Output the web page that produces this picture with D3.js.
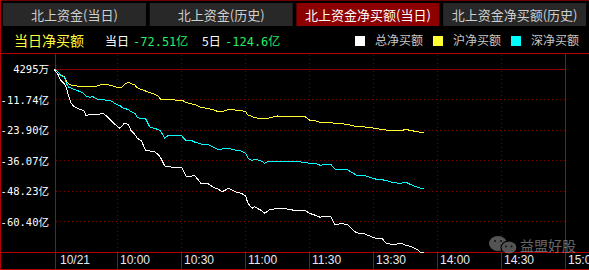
<!DOCTYPE html>
<html>
<head>
<meta charset="utf-8">
<script src="https://cdn.jsdelivr.net/npm/d3@7/dist/d3.min.js"></script>
<style>
  html, body { margin: 0; padding: 0; background: #000; overflow: hidden; }
  svg { display: block; }
</style>
</head>
<body>
<svg id="chart" width="589" height="270"></svg>
<script>
// tabs across the top, the third one is selected
const tabNames = ["北上资金(当日)", "北上资金(历史)", "北上资金净买额(当日)", "北上资金净买额(历史)"];
const activeTab = 2;

const todayLabel = "当日净买额";
const todayValue = "-72.51亿";
const fiveDayValue = "-124.6亿";

const legendNames = ["总净买额", "沪净买额", "深净买额"];
const legendColors = ["#ffffff", "#ffff33", "#00ffff"];

// trading minutes since 9:30 (lunch break removed)
const minutes = [0, 2, 3, 5, 6, 7, 8, 9, 11, 14, 15, 17, 18, 20, 23, 25, 27, 29, 31, 32,
  33, 35, 36, 38, 39, 41, 43, 45, 47, 49, 50, 52, 54, 57, 60, 62, 64, 66, 69, 72,
  75, 77, 79, 82, 85, 88, 90, 91, 93, 94, 97, 99, 101, 105, 108, 112, 116, 118, 120, 123,
  125, 127, 130, 132, 135, 138, 140, 142, 146, 148, 151, 154, 156, 159, 161, 163, 165, 168, 171, 172, 174];

// net buying, 亿元
const totalNet = [0.43, -1.96, -3.95, -5.55, -7.54, -10.73, -13.12, -14.20, -15.31, -16.11,
  -18.10, -17.71, -17.51, -17.79, -17.23, -18.58, -20.30, -21.89, -23.21, -22.17,
  -21.21, -21.69, -23.88, -25.68, -27.07, -28.15, -31.86, -32.26, -32.45, -33.65,
  -34.85, -38.23, -38.51, -38.91, -38.75, -42.22, -42.50, -41.94, -45.13, -45.13,
  -46.80, -47.40, -48.48, -47.12, -48.48, -49.12, -50.19, -52.98, -55.10, -54.46,
  -55.77, -57.09, -55.77, -55.10, -55.10, -55.77, -55.77, -55.97, -57.09, -57.96,
  -58.68, -58.16, -58.44, -61.75, -61.07, -61.75, -63.47, -64.82, -65.34, -66.02,
  -67.05, -67.05, -69.04, -69.52, -69.32, -69.04, -69.72, -70.40, -71.72, -72.51, -72.51];

const shNet = [0.43, -0.77, -1.96, -2.76, -4.75, -5.55, -5.95, -6.23, -6.35, -6.47,
  -6.47, -6.47, -6.35, -6.35, -5.67, -5.87, -6.07, -6.74, -7.02, -6.74,
  -5.75, -4.87, -5.35, -5.95, -7.02, -7.74, -8.34, -8.94, -9.54, -10.33,
  -11.53, -11.73, -11.81, -11.93, -11.93, -12.92, -13.32, -13.72, -14.84, -15.24,
  -15.91, -16.51, -16.59, -15.63, -15.91, -16.19, -16.51, -17.91, -18.50, -18.90,
  -19.30, -19.50, -19.10, -18.30, -18.42, -18.50, -18.58, -18.58, -19.90, -20.30,
  -20.82, -20.70, -20.90, -21.21, -21.41, -21.61, -22.09, -22.49, -22.69, -22.89,
  -23.21, -23.69, -23.88, -24.28, -24.28, -24.28, -23.61, -24.16, -24.60, -24.80, -24.88];

const szNet = [0.43, -0.77, -1.96, -2.96, -5.55, -6.86, -7.14, -7.54, -8.14, -9.34,
  -10.33, -10.93, -10.45, -11.53, -11.81, -12.05, -12.33, -13.52, -14.20, -14.92,
  -15.31, -15.71, -16.51, -17.23, -18.70, -19.50, -19.30, -22.69, -23.21, -23.69,
  -24.28, -27.07, -25.88, -26.08, -26.28, -28.07, -27.87, -28.67, -29.47, -29.47,
  -30.86, -31.58, -31.46, -31.18, -31.86, -32.26, -33.17, -35.05, -36.12, -35.56,
  -36.04, -37.16, -36.24, -36.44, -36.52, -36.52, -36.64, -36.76, -37.16, -37.24,
  -37.96, -37.64, -37.56, -39.55, -39.75, -39.83, -40.83, -41.82, -42.02, -42.62,
  -43.42, -43.70, -44.01, -44.81, -45.01, -45.13, -44.61, -45.81, -46.80, -47.00, -47.12];

const yDomain = [-72.51, 0.4295];
const yTicks = [0.4295, -11.74, -23.90, -36.07, -48.23, -60.40];
const yTickLabels = ["4295万", "-11.74亿", "-23.90亿", "-36.07亿", "-48.23亿", "-60.40亿"];

const timeTicks = [0, 30, 60, 90, 120, 150, 180, 210, 240];
const timeLabels = ["10/21", "10:00", "10:30", "11:00", "11:30", "13:30", "14:00", "14:30", "15:00"];

const W = 589, H = 270;
const RED = "#b40000";
const GRID = "#7a0000";
const plot = { left: 55, right: 565, top: 53, bottom: 252 };

const svg = d3.select("#chart");
const px = v => Math.floor(v) + 0.5;

svg.append("rect").attr("width", W).attr("height", H).attr("fill", "#000");

// tabs
const tabW = 143, tabStep = 146.7;
const tabG = svg.append("g");
tabG.selectAll("rect")
  .data(tabNames)
  .join("rect")
  .attr("x", (_, i) => 3 + i * tabStep)
  .attr("y", 3)
  .attr("width", tabW)
  .attr("height", 23)
  .attr("fill", (_, i) => (i === activeTab ? "#8c0000" : "#282828"));
tabG.selectAll("text")
  .data(tabNames)
  .join("text")
  .attr("x", (_, i) => 3 + i * tabStep + tabW / 2)
  .attr("y", 20)
  .attr("text-anchor", "middle")
  .attr("font-family", "'Noto Sans CJK SC', sans-serif")
  .attr("font-size", 13)
  .attr("fill", (_, i) => (i === activeTab ? "#ffffff" : "#cfcfcf"))
  .text(d => d);

// frame lines
const frame = svg.append("g").attr("stroke", RED).attr("stroke-width", 1).attr("shape-rendering", "crispEdges");
frame.append("line").attr("x1", 0).attr("x2", W).attr("y1", 0.5).attr("y2", 0.5).attr("stroke", "#6e0000");
frame.append("line").attr("x1", 0.5).attr("x2", 0.5).attr("y1", 0).attr("y2", H);
frame.append("line").attr("x1", 0).attr("x2", W).attr("y1", px(plot.top)).attr("y2", px(plot.top));
frame.append("line").attr("x1", 0).attr("x2", W).attr("y1", px(plot.bottom)).attr("y2", px(plot.bottom));
frame.append("line").attr("x1", 0).attr("x2", W).attr("y1", 269.5).attr("y2", 269.5);
frame.append("line").attr("x1", px(plot.left)).attr("x2", px(plot.left)).attr("y1", plot.top).attr("y2", H);
frame.append("line").attr("x1", px(plot.right)).attr("x2", px(plot.right)).attr("y1", plot.top).attr("y2", H);

// info row
const info = svg.append("g").attr("font-family", "'DejaVu Sans Mono', 'Noto Sans CJK SC', monospace");
info.append("text").attr("x", 14).attr("y", 46)
  .attr("font-family", "'Noto Sans CJK SC', sans-serif").attr("font-size", 14)
  .attr("fill", "#ffff33").text(todayLabel);
info.append("text").attr("x", 105).attr("y", 45.5)
  .attr("font-family", "'Noto Sans CJK SC', sans-serif").attr("font-size", 12)
  .attr("fill", "#ffffff").text("当日");
info.append("text").attr("x", 133).attr("y", 45.5).attr("font-size", 12)
  .attr("fill", "#22ee66").text(todayValue);
info.append("text").attr("x", 202).attr("y", 45.5)
  .attr("font-family", "'Noto Sans CJK SC', sans-serif").attr("font-size", 12)
  .attr("fill", "#ffffff").text("5日");
info.append("text").attr("x", 225).attr("y", 45.5).attr("font-size", 12)
  .attr("fill", "#22ee66").text(fiveDayValue);

// legend
const legendX = [355, 433, 511];
const legend = svg.append("g");
legend.selectAll("rect")
  .data(legendNames)
  .join("rect")
  .attr("x", (_, i) => legendX[i])
  .attr("y", 36)
  .attr("width", 10)
  .attr("height", 10)
  .attr("fill", (_, i) => legendColors[i]);
legend.selectAll("text")
  .data(legendNames)
  .join("text")
  .attr("x", (_, i) => legendX[i] + 20)
  .attr("y", 45)
  .attr("font-family", "'Noto Sans CJK SC', sans-serif")
  .attr("font-size", 12)
  .attr("fill", "#c8c8c8")
  .text(d => d);

// scales
const x = d3.scaleLinear().domain([0, 240]).range([54, 565]);
const y = d3.scaleLinear().domain(yDomain).range([plot.bottom, 69]);

// horizontal grid
svg.append("g")
  .selectAll("line")
  .data(yTicks)
  .join("line")
  .attr("x1", plot.left + 1)
  .attr("x2", plot.right)
  .attr("y1", d => px(y(d)))
  .attr("y2", d => px(y(d)))
  .attr("stroke", (_, i) => (i === 0 ? "#8a0000" : GRID))
  .attr("stroke-dasharray", (_, i) => (i === 0 ? null : "1,3"))
  .attr("shape-rendering", "crispEdges");

// vertical grid inside the plot
const innerTicks = timeTicks.slice(1, -1);
svg.append("g")
  .selectAll("line")
  .data(innerTicks)
  .join("line")
  .attr("x1", d => px(x(d)))
  .attr("x2", d => px(x(d)))
  .attr("y1", plot.top + 2)
  .attr("y2", plot.bottom)
  .attr("stroke", GRID)
  .attr("stroke-dasharray", "1,3")
  .attr("shape-rendering", "crispEdges");

// separators in the time-label row
svg.append("g")
  .selectAll("line")
  .data(innerTicks)
  .join("line")
  .attr("x1", d => px(x(d)))
  .attr("x2", d => px(x(d)))
  .attr("y1", plot.bottom)
  .attr("y2", H)
  .attr("stroke", RED)
  .attr("shape-rendering", "crispEdges");

// y labels
svg.append("g")
  .selectAll("text")
  .data(yTicks)
  .join("text")
  .attr("x", 49)
  .attr("y", d => y(d) + 4)
  .attr("text-anchor", "end")
  .attr("font-family", "'DejaVu Sans Mono', 'Noto Sans CJK SC', monospace")
  .attr("font-size", 10.5)
  .attr("fill", "#ffffff")
  .text((_, i) => yTickLabels[i]);

// time labels
svg.append("g")
  .selectAll("text")
  .data(timeTicks)
  .join("text")
  .attr("x", (d, i) => (i === 0 ? plot.left + 5 : Math.floor(x(d)) + 3))
  .attr("y", 264)
  .attr("font-family", "'Liberation Sans', Arial, sans-serif")
  .attr("font-size", 12)
  .attr("fill", "#e6e8f4")
  .text((_, i) => timeLabels[i]);

// watermark
const wm = svg.append("g").attr("opacity", 0.55);
wm.append("ellipse").attr("cx", 498).attr("cy", 243.5).attr("rx", 9).attr("ry", 7.5).attr("fill", "#9a9a9a");
wm.append("ellipse").attr("cx", 509).attr("cy", 247.5).attr("rx", 8).attr("ry", 6.5)
  .attr("fill", "#9a9a9a").attr("stroke", "#000").attr("stroke-width", 1.2);
[[495, 241], [501, 241], [506, 246.5], [511.5, 246.5]].forEach(([cx, cy]) => {
  wm.append("circle").attr("cx", cx).attr("cy", cy).attr("r", 1).attr("fill", "#222");
});
wm.append("text").attr("x", 520).attr("y", 251)
  .attr("font-family", "'Noto Sans CJK SC', sans-serif")
  .attr("font-size", 14)
  .attr("fill", "#bdbdbd")
  .text("益盟好股");

// series lines
const series = [
  { values: shNet, color: legendColors[1] },
  { values: szNet, color: legendColors[2] },
  { values: totalNet, color: legendColors[0] }
];
const line = d3.line()
  .x((d, i) => x(minutes[i]))
  .y(d => y(d));

svg.append("g")
  .selectAll("path")
  .data(series)
  .join("path")
  .attr("d", d => line(d.values))
  .attr("fill", "none")
  .attr("stroke", d => d.color)
  .attr("stroke-width", 1)
  .attr("shape-rendering", "crispEdges");
</script>
</body>
</html>
